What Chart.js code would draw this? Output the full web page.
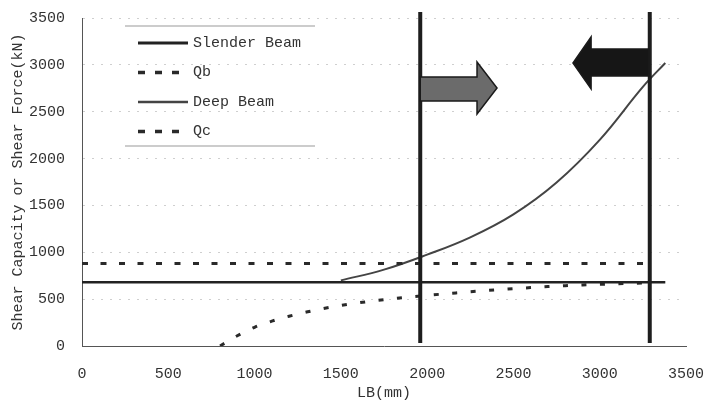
<!DOCTYPE html>
<html>
<head>
<meta charset="utf-8">
<script src="https://cdn.jsdelivr.net/npm/chart.js@4.4.0/dist/chart.umd.min.js"></script>
<style>
    html, body { margin: 0; padding: 0; background: #fff; }
    #wrap { width: 704px; height: 403px; }
</style>
</head>
<body>
<div id="wrap"><canvas id="shearChart" width="704" height="403"></canvas></div>
<script>
// Data (LB in mm, force in kN)
const slenderLB = [0, 3380];
const slenderQ = [680, 680];

const qbLB = [0, 3310];
const qbQ = [880, 880];

const deepLB = [1500, 1750, 2000, 2250, 2500, 2750, 3000, 3250, 3380];
const deepQ = [700, 815, 975, 1160, 1405, 1745, 2200, 2765, 3020];

const qcLB = [800, 900, 1000, 1100, 1200, 1300, 1400, 1500, 1600, 1700, 1800, 1900, 2000,
    2100, 2200, 2300, 2400, 2500, 2600, 2700, 2800, 2900, 3000, 3100, 3200, 3300];
const qcQ = [0, 110, 200, 265, 318, 362, 400, 432, 460, 484, 505, 523, 540,
    556, 571, 586, 599, 611, 623, 634, 643, 651, 658, 664, 669, 675];

// boundaries marked by thick vertical lines
const boundaryLB = [1960, 3290];

const xTicks = [0, 500, 1000, 1500, 2000, 2500, 3000, 3500];
const yTicks = [0, 500, 1000, 1500, 2000, 2500, 3000, 3500];

// arrows (data coordinates)
const rightArrow = [[1960, 2871], [2289, 2871], [2289, 3031], [2405, 2753], [2289, 2476], [2289, 2615], [1960, 2615]];
const leftArrow = [[3285, 3170], [2950, 3170], [2950, 3298], [2845, 3020], [2950, 2743], [2950, 2882], [3285, 2882]];

const FONT = "'Liberation Mono', 'DejaVu Sans Mono', monospace";
const TEXT = "#333";

function pts(xs, ys) {
    return xs.map((x, i) => ({ x: x, y: ys[i] }));
}

// Thick lines + arrows
const markPlugin = {
    id: "marks",
    afterDatasetsDraw(chart) {
        const ctx = chart.ctx;
        const xs = chart.scales.x, ys = chart.scales.y;
        const area = chart.chartArea;
        ctx.save();
        ctx.strokeStyle = "#1e1e1e";
        ctx.lineWidth = 4;
        boundaryLB.forEach((lb) => {
            const px = xs.getPixelForValue(lb);
            ctx.beginPath();
            ctx.moveTo(px, area.top - 6);
            ctx.lineTo(px, area.bottom - 3);
            ctx.stroke();
        });

        const poly = (list, fill) => {
            ctx.beginPath();
            list.forEach((p, i) => {
                const px = xs.getPixelForValue(p[0]);
                const py = ys.getPixelForValue(p[1]);
                if (i === 0) ctx.moveTo(px, py); else ctx.lineTo(px, py);
            });
            ctx.closePath();
            ctx.fillStyle = fill;
            ctx.fill();
            ctx.lineWidth = 1.5;
            ctx.strokeStyle = "#1a1a1a";
            ctx.stroke();
        };
        poly(rightArrow, "#6b6b6b");
        poly(leftArrow, "#161616");
        ctx.restore();
    },
};

// Legend box drawn inside the plot
const legendPlugin = {
    id: "boxLegend",
    afterDraw(chart) {
        const ctx = chart.ctx;
        const a = chart.chartArea;
        const left = a.left + 43, right = a.left + 233;
        const top = a.top + 8, bottom = a.top + 128;
        ctx.save();
        ctx.strokeStyle = "#999";
        ctx.lineWidth = 1;
        ctx.beginPath();
        ctx.moveTo(left, top); ctx.lineTo(right, top);
        ctx.moveTo(left, bottom); ctx.lineTo(right, bottom);
        ctx.stroke();

        ctx.font = "15px " + FONT;
        ctx.fillStyle = TEXT;
        ctx.textBaseline = "middle";
        chart.data.datasets.forEach((ds, i) => {
            const y = a.top + 25 + i * 29.5;
            ctx.beginPath();
            ctx.strokeStyle = ds.borderColor;
            ctx.lineWidth = ds.legendWidth;
            ctx.setLineDash(ds.borderDash && ds.borderDash.length ? [7, 10] : []);
            ctx.moveTo(left + 13, y);
            ctx.lineTo(left + 63, y);
            ctx.stroke();
            ctx.setLineDash([]);
            ctx.fillText(ds.label, left + 68, y);
        });
        ctx.restore();
    },
};

const plainTick = (v) => String(v);

const ctx = document.getElementById("shearChart").getContext("2d");
const shearChart = new Chart(ctx, {
    type: "line",
    data: {
        datasets: [
            {
                label: "Slender Beam",
                data: pts(slenderLB, slenderQ),
                borderColor: "#222",
                borderWidth: 2.5,
                legendWidth: 3,
                pointRadius: 0,
            },
            {
                label: "Qb",
                data: pts(qbLB, qbQ),
                borderColor: "#2a2a2a",
                borderWidth: 3,
                borderDash: [6, 12.5],
                legendWidth: 3.5,
                pointRadius: 0,
            },
            {
                label: "Deep Beam",
                data: pts(deepLB, deepQ),
                borderColor: "#444",
                borderWidth: 2,
                legendWidth: 2.5,
                tension: 0.4,
                pointRadius: 0,
            },
            {
                label: "Qc",
                data: pts(qcLB, qcQ),
                borderColor: "#2a2a2a",
                borderWidth: 3,
                borderDash: [5, 13.5],
                legendWidth: 3.5,
                cubicInterpolationMode: "monotone",
                pointRadius: 0,
            },
        ],
    },
    options: {
        responsive: false,
        animation: false,
        layout: { padding: { top: 18, right: 18, left: 0, bottom: 0 } },
        plugins: {
            legend: { display: false },
            tooltip: { enabled: false },
        },
        scales: {
            x: {
                type: "linear",
                min: 0,
                max: 3500,
                afterFit: (s) => { s.height = 57; s.paddingLeft = 0; s.paddingRight = 0; },
                afterBuildTicks: (s) => { s.ticks = xTicks.map((v) => ({ value: v })); },
                grid: { display: false, drawTicks: false },
                border: { display: true, color: "#555", width: 1 },
                ticks: { padding: 19, color: TEXT, font: { family: FONT, size: 15 }, callback: plainTick, maxRotation: 0 },
                title: {
                    display: true,
                    text: "LB(mm)",
                    color: TEXT,
                    font: { family: FONT, size: 15 },
                    padding: { top: 0, bottom: 1 },
                },
            },
            y: {
                min: 0,
                max: 3500,
                afterFit: (s) => { s.width = 82; s.paddingTop = 0; s.paddingBottom = 0; },
                afterBuildTicks: (s) => { s.ticks = yTicks.map((v) => ({ value: v })); },
                grid: {
                    drawTicks: false,
                    color: (c) => (c.tick && c.tick.value === 0 ? "rgba(0,0,0,0)" : "#cfcfcf"),
                    lineWidth: 1,
                },
                border: { display: true, color: "#555", width: 1, dash: [2, 7] },
                ticks: { padding: 17, color: TEXT, font: { family: FONT, size: 15 }, callback: plainTick },
                title: {
                    display: true,
                    text: "Shear Capacity or Shear Force(kN)",
                    color: TEXT,
                    font: { family: FONT, size: 15 },
                    padding: { top: 9, bottom: 0 },
                },
            },
        },
    },
    plugins: [markPlugin, legendPlugin],
});
</script>
</body>
</html>
